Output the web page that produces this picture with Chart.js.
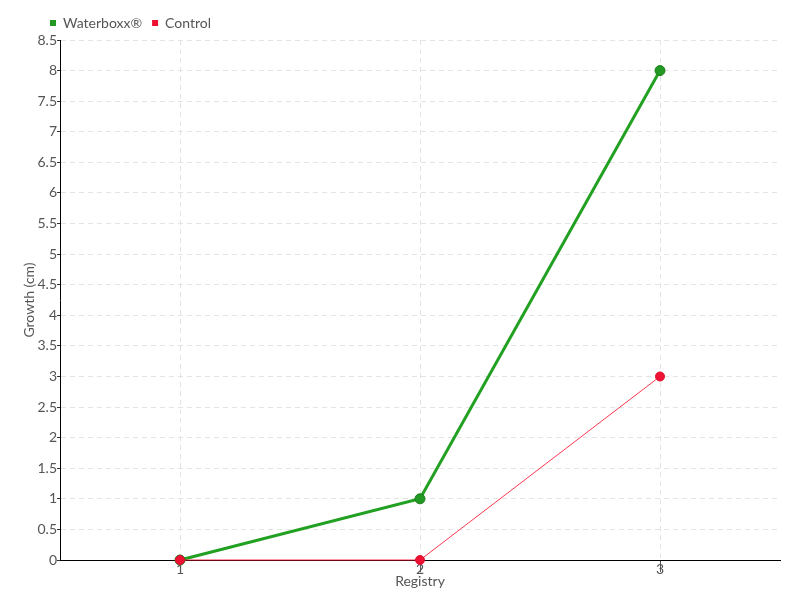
<!DOCTYPE html>
<html>
<head>
<meta charset="utf-8">
<script src="https://cdn.jsdelivr.net/npm/chart.js@4"></script>
<style>
html,body{margin:0;padding:0;background:#fff;}
#wrap{width:800px;height:600px;position:relative;}
</style>
</head>
<body>
<div id="wrap"><canvas id="c" width="800" height="600"></canvas></div>
<script>
const categories = ['1', '2', '3'];
const waterboxx = [0, 1, 8];
const control = [0, 0, 3];
const seriesNames = ['Waterboxx®', 'Control'];
const yAxisTitle = 'Growth (cm)';
const xAxisTitle = 'Registry';

const FONT = "Lato, 'DejaVu Sans Condensed', sans-serif";
const TEXT = '#555';

const legendShift = {
  id: 'legendShift',
  afterLayout(chart) {
    if (chart.legend) { chart.legend.left = 40; }
  }
};

new Chart(document.getElementById('c'), {
  type: 'line',
  data: {
    labels: categories,
    datasets: [
      {
        label: seriesNames[0],
        data: waterboxx,
        borderColor: '#22a022',
        backgroundColor: '#22a022',
        borderWidth: 3,
        pointRadius: 5,
        pointBackgroundColor: '#229922',
        pointBorderColor: '#1c7f1c',
        pointBorderWidth: 1,
        tension: 0,
        clip: false,
        order: 1
      },
      {
        label: seriesNames[1],
        data: control,
        borderColor: 'rgba(255,20,50,0.85)',
        backgroundColor: '#ee1133',
        borderWidth: 1,
        pointRadius: 4.5,
        pointBackgroundColor: '#ee1133',
        pointBorderColor: '#dd1030',
        pointBorderWidth: 1,
        tension: 0,
        clip: false,
        order: 0
      }
    ]
  },
  options: {
    responsive: false,
    animation: false,
    devicePixelRatio: 1,
    layout: { padding: { left: 10, right: 20, top: 6, bottom: 0 } },
    plugins: {
      legend: {
        position: 'top',
        align: 'start',
        labels: {
          sort: (a, b) => a.datasetIndex - b.datasetIndex,
          boxWidth: 6,
          boxHeight: 6,
          padding: 10,
          color: TEXT,
          font: { family: FONT, size: 14 },
          generateLabels(chart) {
            return chart.data.datasets.map((ds, i) => ({
              text: ds.label,
              fillStyle: ds.pointBackgroundColor,
              strokeStyle: ds.pointBackgroundColor,
              lineWidth: 0,
              hidden: false,
              datasetIndex: i,
              fontColor: TEXT
            }));
          }
        }
      },
      tooltip: { enabled: false }
    },
    scales: {
      x: {
        type: 'category',
        offset: true,
        afterFit(scale) { scale.height = 40; },
        grid: {
          offset: false,
          color: '#e4e4e4',
          lineWidth: 1,
          tickLength: 12,
          tickColor: '#555',
          drawTicks: true
        },
        border: { display: true, color: '#000', width: 1, dash: [5, 4] },
        ticks: {
          color: TEXT,
          font: { family: FONT, size: 14 },
          padding: -11,
          maxRotation: 0
        },
        title: {
          display: true,
          text: xAxisTitle,
          color: TEXT,
          font: { family: FONT, size: 14 },
          padding: { top: 0, bottom: 10 }
        }
      },
      y: {
        min: 0,
        max: 8.5,
        afterFit(scale) { scale.width = 50; },
        grid: {
          color: '#e4e4e4',
          lineWidth: 1,
          tickLength: 3,
          tickColor: '#333'
        },
        border: { display: true, color: '#000', width: 1, dash: [5, 4] },
        ticks: {
          stepSize: 0.5,
          color: TEXT,
          font: { family: FONT, size: 14 },
          padding: 0,
          callback: (v) => String(v)
        },
        title: {
          display: true,
          text: yAxisTitle,
          color: TEXT,
          font: { family: FONT, size: 14 },
          padding: { top: 11, bottom: 0 }
        }
      }
    }
  },
  plugins: [legendShift]
});
</script>
</body>
</html>
